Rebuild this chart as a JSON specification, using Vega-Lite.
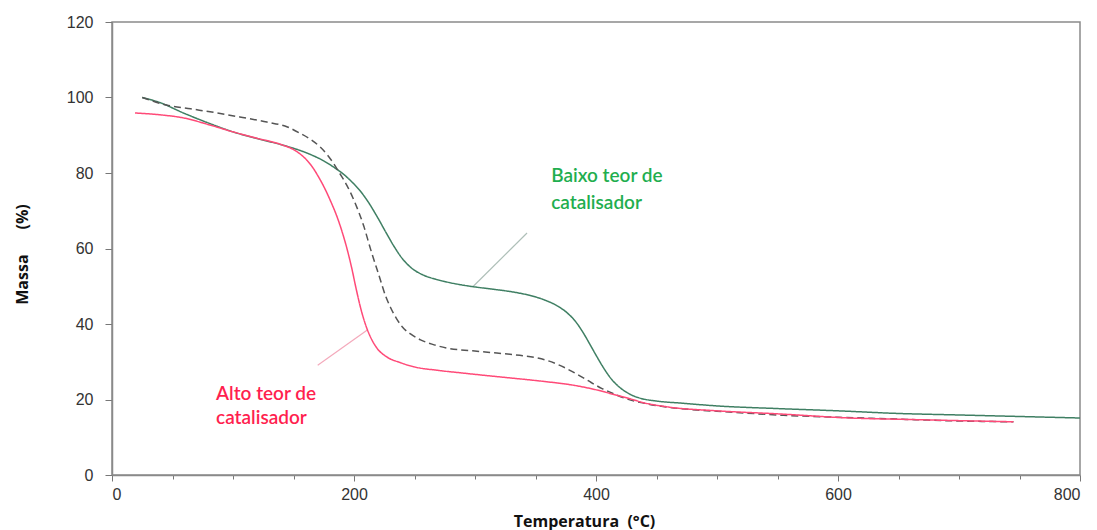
{
  "$schema": "https://vega.github.io/schema/vega-lite/v6.json",
  "width": 968,
  "height": 453,
  "autosize": {"type": "none"},
  "padding": {"left": 112, "top": 22, "right": 17, "bottom": 55},
  "background": "white",
  "config": {
    "view": {"stroke": "#8a8a8a", "strokeWidth": 1.5},
    "axis": {
      "grid": false,
      "domainColor": "#8a8a8a",
      "domainWidth": 1.5,
      "tickColor": "#777777",
      "labelFont": "Liberation Sans",
      "labelFontSize": 16,
      "labelColor": "#333333",
      "titleFont": "Open Sans",
      "titleFontWeight": "bold",
      "titleFontSize": 16,
      "titleColor": "#111111"
    }
  },
  "datasets": {
    "curves": [
      {"T": 25, "m": 100, "s": "Baixo"}, {"T": 40, "m": 98.6, "s": "Baixo"}, {"T": 59, "m": 95.9, "s": "Baixo"}, {"T": 80, "m": 93.2, "s": "Baixo"}, {"T": 100, "m": 90.9, "s": "Baixo"}, {"T": 120, "m": 89.1, "s": "Baixo"}, {"T": 141, "m": 87.4, "s": "Baixo"}, {"T": 161, "m": 85.3, "s": "Baixo"}, {"T": 175, "m": 83.2, "s": "Baixo"}, {"T": 183, "m": 81.6, "s": "Baixo"}, {"T": 192, "m": 79.5, "s": "Baixo"}, {"T": 199, "m": 77.4, "s": "Baixo"}, {"T": 205, "m": 75.3, "s": "Baixo"}, {"T": 212, "m": 72.2, "s": "Baixo"}, {"T": 219, "m": 68.5, "s": "Baixo"}, {"T": 226, "m": 64.5, "s": "Baixo"}, {"T": 233, "m": 60.6, "s": "Baixo"}, {"T": 240, "m": 57.3, "s": "Baixo"}, {"T": 248, "m": 54.7, "s": "Baixo"}, {"T": 257, "m": 53, "s": "Baixo"}, {"T": 267, "m": 51.9, "s": "Baixo"}, {"T": 277, "m": 51.1, "s": "Baixo"}, {"T": 298, "m": 49.9, "s": "Baixo"}, {"T": 315, "m": 49.2, "s": "Baixo"}, {"T": 331, "m": 48.5, "s": "Baixo"}, {"T": 345, "m": 47.6, "s": "Baixo"}, {"T": 358, "m": 46.3, "s": "Baixo"}, {"T": 368, "m": 44.8, "s": "Baixo"}, {"T": 376, "m": 43, "s": "Baixo"}, {"T": 383, "m": 40.7, "s": "Baixo"}, {"T": 389, "m": 37.9, "s": "Baixo"}, {"T": 395, "m": 34.6, "s": "Baixo"}, {"T": 401, "m": 31.2, "s": "Baixo"}, {"T": 407, "m": 28, "s": "Baixo"}, {"T": 413, "m": 25.3, "s": "Baixo"}, {"T": 420, "m": 23.1, "s": "Baixo"}, {"T": 428, "m": 21.4, "s": "Baixo"}, {"T": 437, "m": 20.3, "s": "Baixo"}, {"T": 450, "m": 19.6, "s": "Baixo"}, {"T": 472, "m": 19, "s": "Baixo"}, {"T": 500, "m": 18.3, "s": "Baixo"}, {"T": 550, "m": 17.6, "s": "Baixo"}, {"T": 600, "m": 17, "s": "Baixo"}, {"T": 650, "m": 16.3, "s": "Baixo"}, {"T": 700, "m": 15.9, "s": "Baixo"}, {"T": 750, "m": 15.5, "s": "Baixo"}, {"T": 800, "m": 15.1, "s": "Baixo"},
      {"T": 25, "m": 100, "s": "Medio"}, {"T": 45, "m": 98, "s": "Medio"}, {"T": 65, "m": 97, "s": "Medio"}, {"T": 87, "m": 95.9, "s": "Medio"}, {"T": 108, "m": 94.7, "s": "Medio"}, {"T": 128, "m": 93.5, "s": "Medio"}, {"T": 145, "m": 92.2, "s": "Medio"}, {"T": 155, "m": 90.6, "s": "Medio"}, {"T": 165, "m": 88.7, "s": "Medio"}, {"T": 172, "m": 86.9, "s": "Medio"}, {"T": 178, "m": 84.8, "s": "Medio"}, {"T": 183, "m": 82.6, "s": "Medio"}, {"T": 188, "m": 80, "s": "Medio"}, {"T": 194, "m": 76.8, "s": "Medio"}, {"T": 201, "m": 72, "s": "Medio"}, {"T": 208, "m": 66, "s": "Medio"}, {"T": 214, "m": 59.5, "s": "Medio"}, {"T": 221, "m": 52.5, "s": "Medio"}, {"T": 226, "m": 47.5, "s": "Medio"}, {"T": 230, "m": 44.5, "s": "Medio"}, {"T": 235, "m": 41.5, "s": "Medio"}, {"T": 240, "m": 39.2, "s": "Medio"}, {"T": 247, "m": 37.3, "s": "Medio"}, {"T": 255, "m": 35.8, "s": "Medio"}, {"T": 265, "m": 34.6, "s": "Medio"}, {"T": 277, "m": 33.6, "s": "Medio"}, {"T": 298, "m": 32.9, "s": "Medio"}, {"T": 318, "m": 32.3, "s": "Medio"}, {"T": 337, "m": 31.7, "s": "Medio"}, {"T": 350, "m": 31.1, "s": "Medio"}, {"T": 360, "m": 30.3, "s": "Medio"}, {"T": 369, "m": 29.2, "s": "Medio"}, {"T": 378, "m": 27.8, "s": "Medio"}, {"T": 387, "m": 26.2, "s": "Medio"}, {"T": 396, "m": 24.5, "s": "Medio"}, {"T": 405, "m": 22.9, "s": "Medio"}, {"T": 414, "m": 21.6, "s": "Medio"}, {"T": 425, "m": 20.2, "s": "Medio"}, {"T": 440, "m": 19, "s": "Medio"}, {"T": 458, "m": 18, "s": "Medio"}, {"T": 480, "m": 17.3, "s": "Medio"}, {"T": 510, "m": 16.7, "s": "Medio"}, {"T": 555, "m": 15.8, "s": "Medio"}, {"T": 600, "m": 15.3, "s": "Medio"}, {"T": 650, "m": 14.8, "s": "Medio"}, {"T": 700, "m": 14.3, "s": "Medio"}, {"T": 745, "m": 14.1, "s": "Medio"},
      {"T": 19, "m": 95.9, "s": "Alto"}, {"T": 40, "m": 95.4, "s": "Alto"}, {"T": 59, "m": 94.6, "s": "Alto"}, {"T": 80, "m": 92.8, "s": "Alto"}, {"T": 100, "m": 90.9, "s": "Alto"}, {"T": 120, "m": 89.2, "s": "Alto"}, {"T": 141, "m": 87.4, "s": "Alto"}, {"T": 150, "m": 86.2, "s": "Alto"}, {"T": 156, "m": 84.9, "s": "Alto"}, {"T": 161, "m": 83.4, "s": "Alto"}, {"T": 166, "m": 81.4, "s": "Alto"}, {"T": 171, "m": 78.8, "s": "Alto"}, {"T": 176, "m": 75.8, "s": "Alto"}, {"T": 181, "m": 72.3, "s": "Alto"}, {"T": 186, "m": 68.4, "s": "Alto"}, {"T": 190, "m": 64.6, "s": "Alto"}, {"T": 194, "m": 60.2, "s": "Alto"}, {"T": 198, "m": 55, "s": "Alto"}, {"T": 202, "m": 49, "s": "Alto"}, {"T": 206, "m": 43.6, "s": "Alto"}, {"T": 210, "m": 39.4, "s": "Alto"}, {"T": 214, "m": 36.3, "s": "Alto"}, {"T": 219, "m": 33.6, "s": "Alto"}, {"T": 227, "m": 31.3, "s": "Alto"}, {"T": 238, "m": 29.8, "s": "Alto"}, {"T": 249, "m": 28.7, "s": "Alto"}, {"T": 270, "m": 27.7, "s": "Alto"}, {"T": 290, "m": 27, "s": "Alto"}, {"T": 320, "m": 26, "s": "Alto"}, {"T": 345, "m": 25.2, "s": "Alto"}, {"T": 362, "m": 24.6, "s": "Alto"}, {"T": 375, "m": 24.1, "s": "Alto"}, {"T": 388, "m": 23.4, "s": "Alto"}, {"T": 401, "m": 22.5, "s": "Alto"}, {"T": 414, "m": 21.4, "s": "Alto"}, {"T": 428, "m": 20.2, "s": "Alto"}, {"T": 440, "m": 19.1, "s": "Alto"}, {"T": 460, "m": 18, "s": "Alto"}, {"T": 500, "m": 17, "s": "Alto"}, {"T": 550, "m": 16.2, "s": "Alto"}, {"T": 610, "m": 15.1, "s": "Alto"}, {"T": 660, "m": 14.7, "s": "Alto"}, {"T": 700, "m": 14.4, "s": "Alto"}, {"T": 745, "m": 14.1, "s": "Alto"}
    ],
    "leaders": [
      {"x1": 298, "y1": 49.8, "x2": 343, "y2": 64.1, "s": "Baixo"},
      {"x1": 170, "y1": 29.1, "x2": 211, "y2": 38.4, "s": "Alto"}
    ],
    "labels": [
      {"x": 363, "y": 79.2, "t": "Baixo teor de", "s": "Baixo"},
      {"x": 363, "y": 72.1, "t": "catalisador", "s": "Baixo"},
      {"x": 86, "y": 21.5, "t": "Alto teor de", "s": "Alto"},
      {"x": 86, "y": 15.1, "t": "catalisador", "s": "Alto"}
    ]
  },
  "layer": [
    {
      "data": {"name": "leaders"},
      "mark": {"type": "rule", "strokeWidth": 1.2},
      "encoding": {
        "x": {"field": "x1", "type": "quantitative"},
        "y": {"field": "y1", "type": "quantitative"},
        "x2": {"field": "x2"},
        "y2": {"field": "y2"},
        "color": {"field": "s", "type": "nominal", "scale": {"domain": ["Baixo", "Alto"], "range": ["#aebfb8", "#f4a9bb"]}, "legend": null}
      }
    },
    {
      "data": {"name": "curves"},
      "mark": {"type": "line", "strokeWidth": 1.5, "interpolate": "monotone"},
      "encoding": {
        "x": {
          "field": "T", "type": "quantitative",
          "scale": {"domain": [0, 800], "nice": false},
          "axis": {
            "values": [0, 50, 100, 150, 200, 250, 300, 350, 400, 450, 500, 550, 600, 650, 700, 750, 800],
            "labelExpr": "datum.value % 200 === 0 ? datum.label : ''",
            "tickSize": {"condition": {"test": "datum.value % 200 === 0", "value": 6}, "value": 4},
            "labelPadding": 5,
            "title": "Temperatura\u00a0\u00a0(°C)",
            "titleX": 472,
            "titleY": 46,
            "titleBaseline": "middle"
          }
        },
        "y": {
          "field": "m", "type": "quantitative",
          "scale": {"domain": [0, 120], "nice": false},
          "axis": {
            "values": [0, 5, 10, 15, 20, 25, 30, 35, 40, 45, 50, 55, 60, 65, 70, 75, 80, 85, 90, 95, 100, 105, 110, 115, 120],
            "labelExpr": "datum.value % 20 === 0 ? datum.label : ''",
            "tickSize": {"condition": {"test": "datum.value % 20 === 0", "value": 7}, "value": 4},
            "labelPadding": 12,
            "title": "Massa\u00a0\u00a0\u00a0\u00a0\u00a0\u00a0(%)",
            "titleX": -90,
            "titleY": 232,
            "titleAngle": -90,
            "titleBaseline": "middle"
          }
        },
        "color": {"field": "s", "type": "nominal", "scale": {"domain": ["Baixo", "Medio", "Alto"], "range": ["#3f7f63", "#555555", "#ff4a78"]}, "legend": null},
        "strokeDash": {"field": "s", "type": "nominal", "scale": {"domain": ["Baixo", "Medio", "Alto"], "range": [[1, 0], [7, 4], [1, 0]]}, "legend": null},
        "order": {"field": "T", "type": "quantitative"}
      }
    },
    {
      "data": {"name": "labels"},
      "mark": {"type": "text", "align": "left", "baseline": "middle", "font": "Lato", "fontSize": 19, "fontWeight": 600},
      "encoding": {
        "x": {"field": "x", "type": "quantitative"},
        "y": {"field": "y", "type": "quantitative"},
        "text": {"field": "t"},
        "color": {"field": "s", "type": "nominal", "scale": {"domain": ["Baixo", "Alto"], "range": ["#1fae4f", "#ff1f4f"]}, "legend": null}
      }
    }
  ],
  "resolve": {"scale": {"color": "independent", "strokeDash": "independent"}}
}
